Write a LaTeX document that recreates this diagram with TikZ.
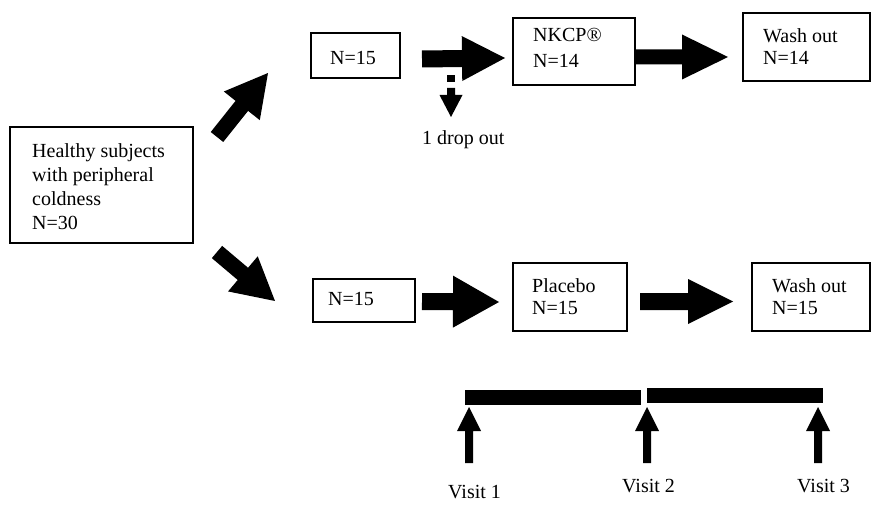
\documentclass[tikz,border=0pt]{standalone}
\usepackage{fontspec}
\setmainfont{Liberation Serif}
\usetikzlibrary{calc}
\newcommand{\blockarr}[5]{%
  \fill let \p1=(#1), \p2=(#2),
    \n1={atan2(\y2-\y1,\x2-\x1)}, \n2={veclen(\x2-\x1,\y2-\y1)} in
    [shift={(\p1)}, rotate=\n1]
    (0pt,{-#3pt}) -- ({(\n2-#4)*1pt},{-#3pt}) -- ({(\n2-#4)*1pt},{-#5pt})
    -- ({\n2*1pt},0pt) -- ({(\n2-#4)*1pt},{#5pt}) -- ({(\n2-#4)*1pt},{#3pt})
    -- (0pt,{#3pt}) -- cycle;}
\begin{document}
\begin{tikzpicture}[x=1pt,y=-1pt,
  box/.style={draw, line width=1.8pt, inner sep=0pt},
  txt/.style={anchor=base west, inner sep=0pt, align=left, font=\fontsize{20}{24}\selectfont}]
\useasboundingbox (0,0) rectangle (872,508);
% boxes
\node[box, minimum width=183pt, minimum height=116pt] (healthy) at (101.5,185) {};
\node[box, minimum width=89pt, minimum height=45pt] (n15a) at (355.5,55.5) {};
\node[box, minimum width=122pt, minimum height=67pt] (nkcp) at (574,51.5) {};
\node[box, minimum width=127pt, minimum height=68pt] (washa) at (806.5,47) {};
\node[box, minimum width=102pt, minimum height=43pt] (n15b) at (364,300.5) {};
\node[box, minimum width=114pt, minimum height=68pt] (placebo) at (570,297) {};
\node[box, minimum width=118pt, minimum height=68pt] (washb) at (811,297) {};
% texts (multi-line: base anchor is the last line's baseline)
\node[txt] (thealthy) at (32,229) {Healthy subjects\\with peripheral\\coldness\\N=30};
\node[txt] (tn15a) at (330,65) {N=15};
\node[txt, font=\fontsize{20}{26}\selectfont] (tnkcp) at (533,68) {NKCP®\\N=14};
\node[txt, font=\fontsize{20}{22}\selectfont] (twasha) at (763,65) {Wash out\\N=14};
\node[txt] (tdrop) at (422,144) {1 drop out};
\node[txt] (tn15b) at (328,305) {N=15};
\node[txt, font=\fontsize{20}{22}\selectfont] (tplacebo) at (532,314) {Placebo\\N=15};
\node[txt, font=\fontsize{20}{22}\selectfont] (twashb) at (772,314) {Wash out\\N=15};
\node[txt] (tv1) at (448,498) {Visit 1};
\node[txt] (tv2) at (622,492) {Visit 2};
\node[txt] (tv3) at (797,492) {Visit 3};
% arrow coordinates
\coordinate (d1s) at (217,137); \coordinate (d1e) at (268,73);
\coordinate (d2s) at (217,252); \coordinate (d2e) at (275,301);
\coordinate (h1s) at (422,59); \coordinate (h1e) at (505,58);
\coordinate (h2s) at (635,57); \coordinate (h2e) at (728,57);
\coordinate (h3s) at (422,301.5); \coordinate (h3e) at (499,302);
\coordinate (h4s) at (640,301.5); \coordinate (h4e) at (733,301.5);
\coordinate (dds) at (451,88); \coordinate (dde) at (451,117);
\coordinate (u1s) at (469,463); \coordinate (u1e) at (469,407);
\coordinate (u2s) at (647,463); \coordinate (u2e) at (647,407);
\coordinate (u3s) at (818,463); \coordinate (u3e) at (818,407);
% block arrows
\blockarr{d1s}{d1e}{8}{42}{23}
\blockarr{d2s}{d2e}{8}{42}{23}
\blockarr{h1s}{h1e}{8.5}{43}{22.5}
\blockarr{h2s}{h2e}{7.5}{46}{22.5}
\blockarr{h3s}{h3e}{8.5}{46}{26}
\blockarr{h4s}{h4e}{8.5}{45}{22.5}
% dashed drop-out arrow
\fill (447,75) rectangle (455,82);
\blockarr{dds}{dde}{4}{22}{11.5}
% timeline
\fill (465,390) rectangle (641,405);
\fill (647,388) rectangle (823,403);
\blockarr{u1s}{u1e}{4}{24}{12}
\blockarr{u2s}{u2e}{4}{24}{12}
\blockarr{u3s}{u3e}{4}{24}{12}
\end{tikzpicture}
\end{document}
